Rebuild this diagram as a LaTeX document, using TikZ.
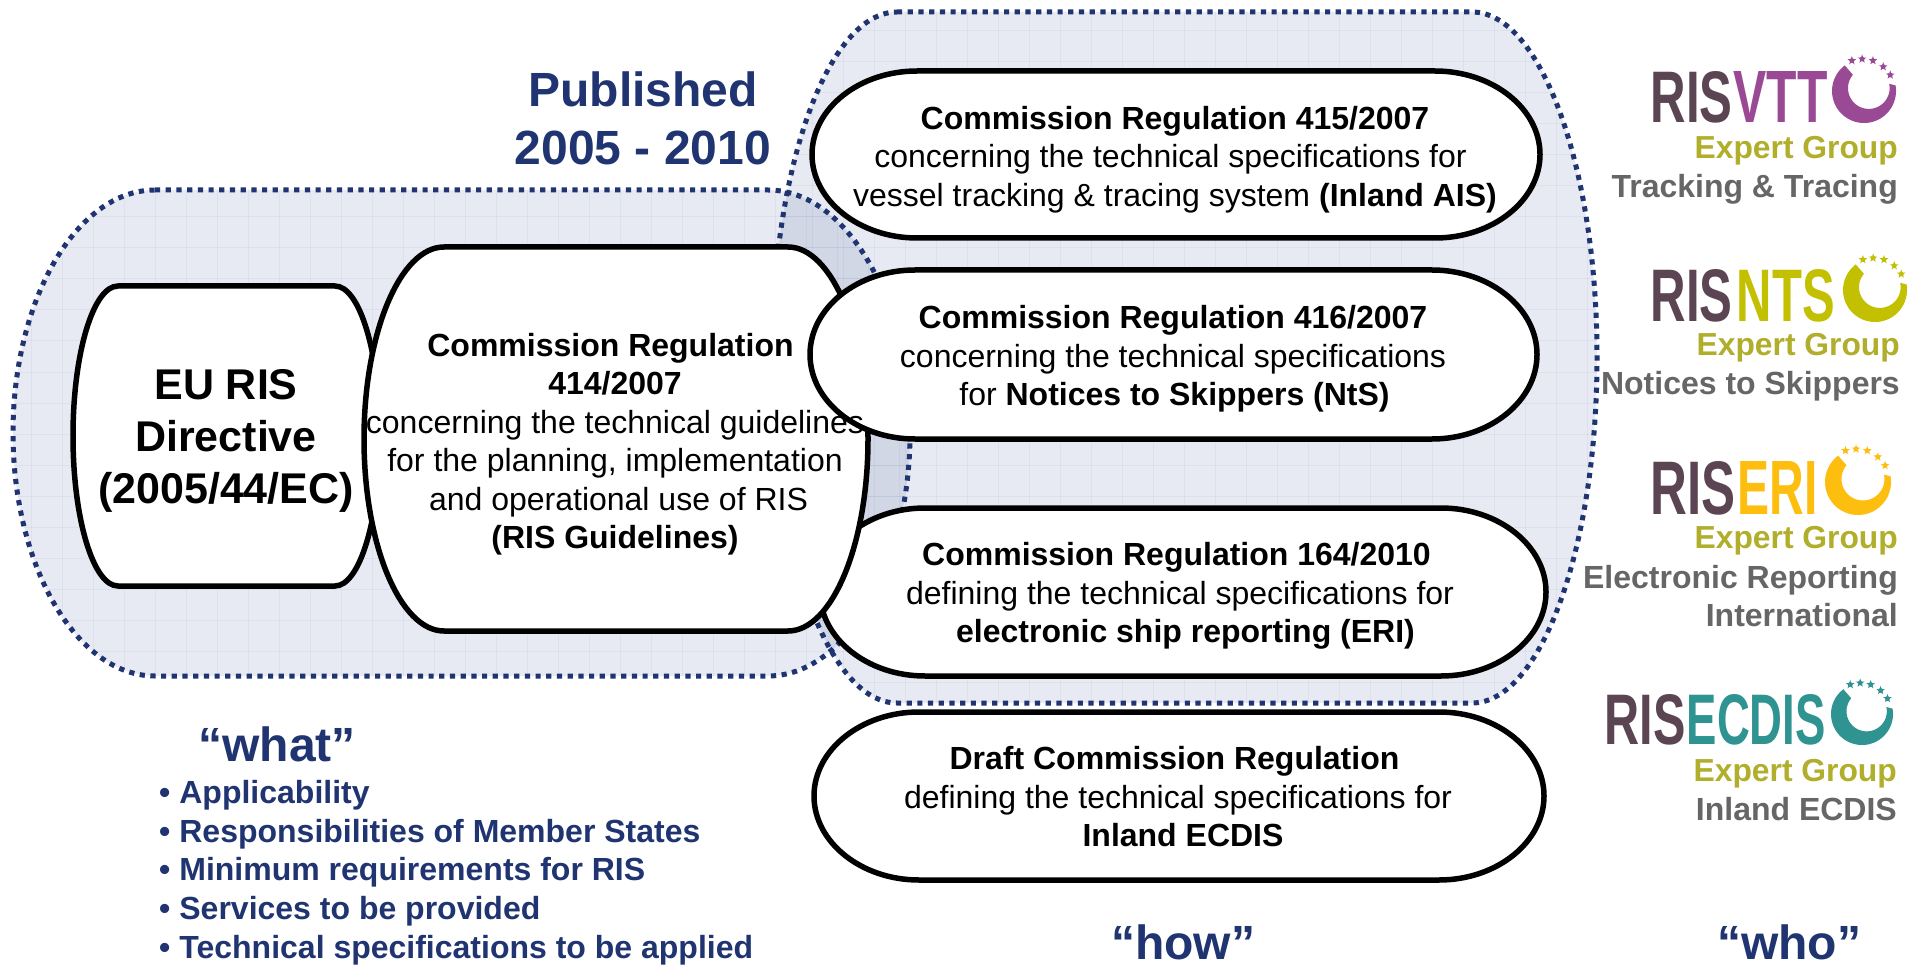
\documentclass[tikz,border=0pt]{standalone}
\usepackage{fontspec}
\setmainfont{Liberation Sans}
\definecolor{risblue}{HTML}{1F3470}
\definecolor{ristint}{HTML}{243C88}
\definecolor{risgray}{HTML}{666666}
\definecolor{risolive}{HTML}{B0AE2A}
\definecolor{rismaroon}{HTML}{5C4553}
\definecolor{risvtt}{HTML}{9A4A94}
\definecolor{risnts}{HTML}{C2C000}
\definecolor{riseri}{HTML}{FDBE10}
\definecolor{risecdis}{HTML}{2F9491}
\newcommand\softpath[6]{({#1+#5},#2) -- ({#3-#5},#2) .. controls ({#3-.45*#5},#2) and (#3,{#2+.45*#6}) .. (#3,{#2+#6}) -- (#3,{#4-#6}) .. controls (#3,{#4-.45*#6}) and ({#3-.45*#5},#4) .. ({#3-#5},#4) -- ({#1+#5},#4) .. controls ({#1+.45*#5},#4) and (#1,{#4-.45*#6}) .. (#1,{#4-#6}) -- (#1,{#2+#6}) .. controls (#1,{#2+.45*#6}) and ({#1+.45*#5},#2) .. ({#1+#5},#2) -- cycle}
% letters: x0, x1, baseline, height, colour, text
\newcommand\logoword[6]{\node[anchor=south west,inner sep=0pt,text=#5] at ({#1-2.5},#3) {\resizebox{\dimexpr#2pt-#1pt+5pt\relax}{#4pt}{\textbf{#6}}};}
% ring: cx, cy, radius, colour
\newcommand\logoring[4]{\begin{scope}[shift={(#1,#2)}]
\fill[#4] plot[domain=-233:10,samples=60] ({#3*cos(\x)},{-#3*sin(\x)}) -- plot[domain=12:-220,samples=60] ({.15*#3+.65*#3*cos(\x)},{-.09*#3-.65*#3*sin(\x)}) -- cycle;
\foreach \sx/\sy in {-.38/-.95,-.06/-1.0,.28/-.95,.6/-.76,.82/-.5}{
\fill[#4] plot[domain=0:4,samples=5] ({\sx*#3+4.6*cos(90+144*\x)},{\sy*#3-4.6*sin(90+144*\x)}) -- cycle;
\fill[#4] ({\sx*#3},{\sy*#3}) circle (2.4pt);}
\end{scope}}
\tikzset{
 softbox/.style={draw=black,line width=5.5pt,fill=white},
 dotted outline/.style={draw=risblue,line width=5pt,dash pattern=on 5.2pt off 5.5pt},
 tint/.style={fill=ristint,fill opacity=.105},
 gridline/.style={draw=ristint,draw opacity=.05,line width=1pt},
 bodytext/.style={align=center,inner sep=0pt,font=\fontsize{32}{38.5}\selectfont},
 eutext/.style={align=center,inner sep=0pt,font=\fontsize{43}{52}\selectfont\bfseries},
 headtext/.style={align=center,inner sep=0pt,text=risblue,font=\fontsize{48}{58}\selectfont\bfseries},
 wordtext/.style={inner sep=0pt,text=risblue,font=\fontsize{48}{58}\selectfont\bfseries},
 listtext/.style={align=left,inner sep=0pt,text=risblue,anchor=west,font=\fontsize{32}{38.7}\selectfont\bfseries},
 expert/.style={anchor=east,inner sep=0pt,text=risolive,font=\fontsize{31.8}{38}\selectfont\bfseries},
 grouptext/.style={anchor=east,align=right,inner sep=0pt,text=risgray,font=\fontsize{32}{38}\selectfont\bfseries},
}
\begin{document}
\begin{tikzpicture}[x=1pt,y=-1pt]
\useasboundingbox (0,0) rectangle (1916,965);
\fill[white] (0,0) rectangle (1916,965);
% tinted zones
\fill[tint] \softpath{13}{190}{910}{676}{142}{243};
\fill[tint] \softpath{772}{12}{1597}{703}{125}{345};
\begin{scope}
\clip \softpath{13}{190}{910}{676}{142}{243};
\foreach \g in {0,31,...,960}{\draw[gridline] (\g,0) -- (\g,965);}
\foreach \g in {0,31,...,960}{\draw[gridline] (0,\g) -- (1000,\g);}
\end{scope}
\begin{scope}
\clip \softpath{772}{12}{1597}{703}{125}{345};
\foreach \g in {750,781,...,1620}{\draw[gridline] (\g,0) -- (\g,965);}
\foreach \g in {0,31,...,720}{\draw[gridline] (700,\g) -- (1620,\g);}
\end{scope}
\draw[dotted outline] \softpath{13}{190}{910}{676}{142}{243};
\draw[dotted outline] \softpath{772}{12}{1597}{703}{125}{345};
% boxes
\draw[softbox] \softpath{73}{286}{380}{586}{45}{150};
\draw[softbox] \softpath{820}{508}{1546}{676}{105}{84};
\draw[softbox] \softpath{364}{247}{868}{631}{80}{192};
\draw[softbox] \softpath{812}{71}{1540}{238}{105}{83.5};
\draw[softbox] \softpath{810}{270}{1537}{439}{105}{84.5};
\draw[softbox] \softpath{814}{712}{1544}{880}{105}{84};
% box texts
\node[eutext] (eu) at (226,441) {EU RIS\\Directive\\(2005/44/EC)};
\node[bodytext] (r414) at (615,444) {\textbf{Commission Regulation}\hspace*{9pt}\\\textbf{414/2007}\\concerning the technical guidelines\\for the planning, implementation\\\hspace*{7pt}and operational use of RIS\\\textbf{(RIS Guidelines)}};
\node[bodytext] (r415) at (1175,159.5) {\textbf{Commission Regulation 415/2007}\\\mbox{concerning the technical specifications for\hspace{9pt}}\\vessel tracking \& tracing system \textbf{(Inland AIS)}};
\node[bodytext] (r416) at (1173,359) {\textbf{Commission Regulation 416/2007}\\concerning the technical specifications\\\hspace*{3pt}for \textbf{Notices to Skippers (NtS)}};
\node[bodytext] (r164) at (1180,596) {\textbf{Commission Regulation 164/2010}\hspace*{7pt}\\defining the technical specifications for\\\hspace*{11pt}\textbf{electronic ship reporting (ERI)}};
\node[bodytext] (rdraft) at (1178,797) {\textbf{Draft Commission Regulation}\hspace*{7pt}\\defining the technical specifications for\\\hspace*{10pt}\textbf{Inland ECDIS}};
% headings
\node[headtext] (published) at (643,118) {Published\\2005 - 2010};
\node[wordtext] (what) at (277,744) {“what”};
\node[wordtext] (how) at (1183,942) {“how”};
\node[wordtext] (who) at (1789,942) {“who”};
\node[listtext] (list) at (159,872.5) {•\hspace{9pt}Applicability\\•\hspace{9pt}Responsibilities of Member States\\•\hspace{9pt}Minimum requirements for RIS\\•\hspace{9pt}Services to be provided\\•\hspace{9pt}Technical specifications to be applied};
% logos
\logoword{1653}{1730}{123}{51}{rismaroon}{RIS}
\logoword{1736}{1825}{123}{51}{risvtt}{VTT}
\logoring{1864}{91}{32}{risvtt}
\logoword{1653}{1730}{322}{52}{rismaroon}{RIS}
\logoword{1739}{1832}{322}{52}{risnts}{NTS}
\logoring{1875}{290}{32}{risnts}
\logoword{1653}{1733}{515}{53}{rismaroon}{RIS}
\logoword{1740}{1815}{515}{53}{riseri}{ERI}
\logoring{1858}{482}{33}{riseri}
\logoword{1607}{1683}{745}{50}{rismaroon}{RIS}
\logoword{1689}{1823}{745}{50}{risecdis}{ECDIS}
\logoring{1862}{714}{31}{risecdis}
% logo captions
\node[expert] (e1) at (1898,151) {Expert Group};
\node[grouptext] (g1) at (1898,189) {Tracking \& Tracing};
\node[expert] (e2) at (1900,348) {Expert Group};
\node[grouptext] (g2) at (1900,386) {Notices to Skippers};
\node[expert] (e3) at (1898,541) {Expert Group};
\node[grouptext] (g3) at (1898,596) {Electronic Reporting\\International};
\node[expert] (e4) at (1897,774) {Expert Group};
\node[grouptext] (g4) at (1897,809) {Inland ECDIS};
\end{tikzpicture}
\end{document}
